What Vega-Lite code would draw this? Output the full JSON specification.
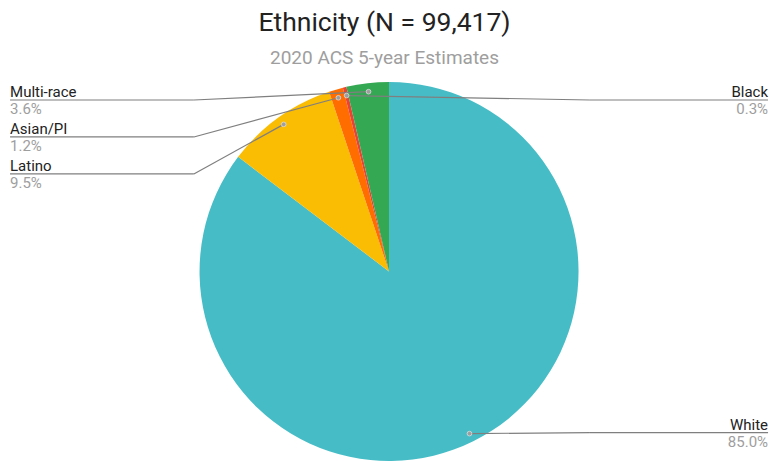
{
  "$schema": "https://vega.github.io/schema/vega-lite/v6.json",
  "width": 769,
  "height": 461,
  "autosize": {"type": "fit", "contains": "padding"},
  "padding": {"top": 9, "left": 0, "right": 0, "bottom": 0},
  "background": "white",
  "config": {"view": {"stroke": null}, "font": "Roboto"},
  "title": {
    "text": "Ethnicity (N = 99,417)",
    "subtitle": "2020 ACS 5-year Estimates",
    "font": "Roboto",
    "subtitleFont": "Roboto",
    "fontSize": 26.5,
    "fontWeight": "normal",
    "color": "#222222",
    "subtitleFontSize": 19,
    "subtitleColor": "#9e9e9e",
    "subtitlePadding": 13,
    "offset": 14,
    "anchor": "middle"
  },
  "data": {
    "values": [
      {"category": "White", "value": 85.0, "order": 0, "side": "right", "slot": 9},
      {"category": "Latino", "value": 9.5, "order": 1, "side": "left", "slot": 2},
      {"category": "Asian/PI", "value": 1.2, "order": 2, "side": "left", "slot": 1},
      {"category": "Black", "value": 0.3, "order": 3, "side": "right", "slot": 0},
      {"category": "Multi-race", "value": 3.6, "order": 4, "side": "left", "slot": 0}
    ]
  },
  "transform": [
    {"joinaggregate": [{"op": "sum", "field": "value", "as": "total"}]},
    {"window": [{"op": "sum", "field": "value", "as": "cum"}], "sort": [{"field": "order"}], "frame": [null, 0]},
    {"calculate": "(datum.cum - datum.value/2)/datum.total*2*PI", "as": "mid"},
    {"calculate": "0.955*sin(datum.mid)", "as": "dotX"},
    {"calculate": "0.955*cos(datum.mid)", "as": "dotY"},
    {"calculate": "datum.side == 'left' ? -2.0 : 2.0", "as": "edgeX"},
    {"calculate": "datum.side == 'left' ? -1.03 : 1.06", "as": "elbowX"},
    {"calculate": "0.905 - 0.195*datum.slot", "as": "lineY"},
    {"calculate": "format(datum.value, '.1f') + '%'", "as": "pctLabel"}
  ],
  "encoding": {},
  "layer": [
    {
      "mark": {"type": "arc"},
      "encoding": {
        "theta": {"field": "value", "type": "quantitative", "stack": true},
        "order": {"field": "order", "type": "quantitative"},
        "x": {"datum": 0, "type": "quantitative", "scale": {"domain": [-2.053, 2.005], "nice": false, "zero": false}, "axis": null},
        "y": {"datum": 0, "type": "quantitative", "scale": {"domain": [-1, 1], "nice": false, "zero": false}, "axis": null},
        "color": {
          "field": "category",
          "type": "nominal",
          "scale": {
            "domain": ["White", "Latino", "Asian/PI", "Black", "Multi-race"],
            "range": ["#46BDC6", "#FBBC04", "#FF6D01", "#EA4335", "#34A853"]
          },
          "legend": null
        }
      }
    },
    {
      "mark": {"type": "rule", "color": "#7f7f7f", "strokeWidth": 1.2},
      "encoding": {
        "x": {"field": "edgeX", "type": "quantitative"},
        "x2": {"field": "elbowX"},
        "y": {"field": "lineY", "type": "quantitative"},
        "y2": {"field": "lineY"}
      }
    },
    {
      "mark": {"type": "rule", "color": "#7f7f7f", "strokeWidth": 1.2},
      "encoding": {
        "x": {"field": "elbowX", "type": "quantitative"},
        "x2": {"field": "dotX"},
        "y": {"field": "lineY", "type": "quantitative"},
        "y2": {"field": "dotY"}
      }
    },
    {
      "mark": {"type": "circle", "size": 22, "color": "#9e9e9e", "opacity": 1, "stroke": "#dddddd", "strokeWidth": 0.8},
      "encoding": {
        "x": {"field": "dotX", "type": "quantitative"},
        "y": {"field": "dotY", "type": "quantitative"}
      }
    },
    {
      "transform": [{"filter": "datum.side == 'left'"}],
      "mark": {"type": "text", "align": "left", "baseline": "alphabetic", "dy": -3, "fontSize": 15, "color": "#222222"},
      "encoding": {
        "x": {"field": "edgeX", "type": "quantitative"},
        "y": {"field": "lineY", "type": "quantitative"},
        "text": {"field": "category"}
      }
    },
    {
      "transform": [{"filter": "datum.side == 'left'"}],
      "mark": {"type": "text", "align": "left", "baseline": "top", "dy": 2, "fontSize": 15, "color": "#9e9e9e"},
      "encoding": {
        "x": {"field": "edgeX", "type": "quantitative"},
        "y": {"field": "lineY", "type": "quantitative"},
        "text": {"field": "pctLabel"}
      }
    },
    {
      "transform": [{"filter": "datum.side == 'right'"}],
      "mark": {"type": "text", "align": "right", "baseline": "alphabetic", "dy": -3, "fontSize": 15, "color": "#222222"},
      "encoding": {
        "x": {"field": "edgeX", "type": "quantitative"},
        "y": {"field": "lineY", "type": "quantitative"},
        "text": {"field": "category"}
      }
    },
    {
      "transform": [{"filter": "datum.side == 'right'"}],
      "mark": {"type": "text", "align": "right", "baseline": "top", "dy": 2, "fontSize": 15, "color": "#9e9e9e"},
      "encoding": {
        "x": {"field": "edgeX", "type": "quantitative"},
        "y": {"field": "lineY", "type": "quantitative"},
        "text": {"field": "pctLabel"}
      }
    }
  ]
}
